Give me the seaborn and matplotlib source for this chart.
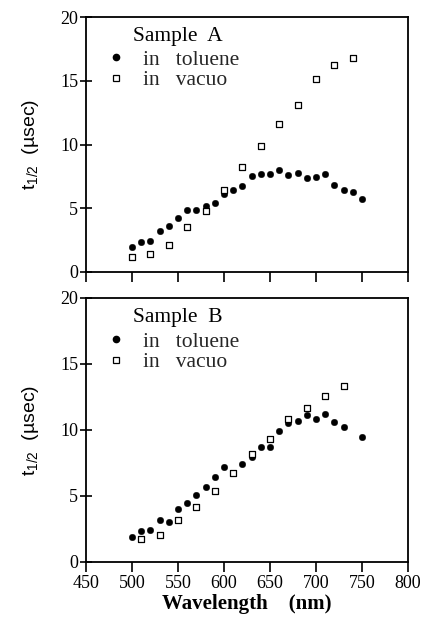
import numpy as np
import pandas as pd
import seaborn as sns
import matplotlib.pyplot as plt
from matplotlib.lines import Line2D

# ---- data ----
wl_tol_A = [500, 510, 520, 530, 540, 550, 560, 570, 580, 590, 600, 610, 620, 630, 640,
            650, 660, 670, 680, 690, 700, 710, 720, 730, 740, 750]
t_tol_A = [2.0, 2.35, 2.45, 3.2, 3.6, 4.2, 4.9, 4.9, 5.2, 5.45, 6.1, 6.45, 6.75, 7.55, 7.7,
           7.65, 8.0, 7.6, 7.75, 7.4, 7.45, 7.65, 6.85, 6.45, 6.3, 5.7]
wl_vac_A = [500, 520, 540, 560, 580, 600, 620, 640, 660, 680, 700, 720, 740]
t_vac_A = [1.15, 1.45, 2.15, 3.5, 4.8, 6.45, 8.25, 9.9, 11.6, 13.1, 15.1, 16.2, 16.8]

wl_tol_B = [500, 510, 520, 530, 540, 550, 560, 570, 580, 590, 600, 620, 630, 640, 650,
            660, 670, 680, 690, 700, 710, 720, 730, 750]
t_tol_B = [1.9, 2.35, 2.45, 3.2, 3.05, 4.05, 4.5, 5.1, 5.7, 6.45, 7.2, 7.45, 7.95, 8.75, 8.75,
           9.9, 10.55, 10.65, 11.1, 10.85, 11.2, 10.6, 10.2, 9.5]
wl_vac_B = [510, 530, 550, 570, 590, 610, 630, 650, 670, 690, 710, 730]
t_vac_B = [1.75, 2.05, 3.2, 4.15, 5.35, 6.75, 8.15, 9.3, 10.8, 11.7, 12.6, 13.3]

samples = ["Sample  A", "Sample  B"]
media = ["in   toluene", "in   vacuo"]
x_ticks = [450, 500, 550, 600, 650, 700, 750, 800]
y_ticks = [0, 5, 10, 15, 20]

def frame(wl, t, medium, sample):
    return pd.DataFrame({"wavelength": wl, "t": t, "medium": medium, "sample": sample})

df = pd.concat([
    frame(wl_tol_A, t_tol_A, media[0], samples[0]),
    frame(wl_vac_A, t_vac_A, media[1], samples[0]),
    frame(wl_tol_B, t_tol_B, media[0], samples[1]),
    frame(wl_vac_B, t_vac_B, media[1], samples[1]),
], ignore_index=True)

# ---- style ----
sns.set_theme(style="ticks")
plt.rcParams["font.family"] = ["Liberation Serif", "DejaVu Serif"]
plt.rcParams["mathtext.fontset"] = "custom"
plt.rcParams["mathtext.rm"] = "Liberation Sans"
plt.rcParams["mathtext.it"] = "Liberation Sans:italic"
plt.rcParams["axes.edgecolor"] = "black"
plt.rcParams["axes.linewidth"] = 1.3

W, H = 424, 618
fig = plt.figure(figsize=(W / 100, H / 100), dpi=100)
L, R = 86, 408
panels = [(17, 272), (298, 562)]

axes = []
for (top, bot) in panels:
    ax = fig.add_axes([L / W, 1 - bot / H, (R - L) / W, (bot - top) / H])
    axes.append(ax)

for ax, sample in zip(axes, samples):
    sub = df[df["sample"] == sample]
    tol = sub[sub["medium"] == media[0]]
    vac = sub[sub["medium"] == media[1]]
    sns.scatterplot(data=tol, x="wavelength", y="t", ax=ax, marker="o", s=22,
                    color="black", edgecolor="black", linewidth=0.3, legend=False)
    sns.scatterplot(data=vac, x="wavelength", y="t", ax=ax, marker="s", s=20,
                    facecolor="white", edgecolor="black", linewidth=0.9, legend=False)
    ax.set_xlim(450, 800)
    ax.set_ylim(0, 20)
    ax.set_xticks(x_ticks)
    ax.set_yticks(y_ticks)
    ax.tick_params(axis="y", direction="inout", length=9, width=1.2, labelsize=13,
                   colors="black", pad=1)
    ax.tick_params(axis="x", direction="out", length=7, width=1.2, labelsize=13,
                   colors="black", pad=2)
    for s in ax.spines.values():
        s.set_visible(True)
        s.set_color("black")
    ax.set_xlabel("")
    ax.set_ylabel("t$_{\\mathrm{1/2}}$  (µsec)", fontfamily="Liberation Sans",
                  fontsize=14, color="black", labelpad=14)
    ax.text(0.145, 0.925, sample, transform=ax.transAxes, fontsize=15.5,
            va="center", ha="left", color="black")
    handles = [
        Line2D([], [], linestyle="none", marker="o", markersize=4.5,
               markerfacecolor="black", markeredgecolor="black"),
        Line2D([], [], linestyle="none", marker="s", markersize=4.5,
               markerfacecolor="white", markeredgecolor="black", markeredgewidth=0.9),
    ]
    ax.legend(handles, media, loc="upper left", bbox_to_anchor=(0.06, 0.872),
              frameon=False, fontsize=15.5, handlelength=1.0, handletextpad=0.75,
              labelspacing=0.02, borderaxespad=0, borderpad=0)

axes[0].set_xticklabels([])
axes[1].set_xlabel("Wavelength    (nm)", fontsize=15, fontweight="bold",
                   color="black", labelpad=2)

fig.savefig("out.png", dpi=100)
